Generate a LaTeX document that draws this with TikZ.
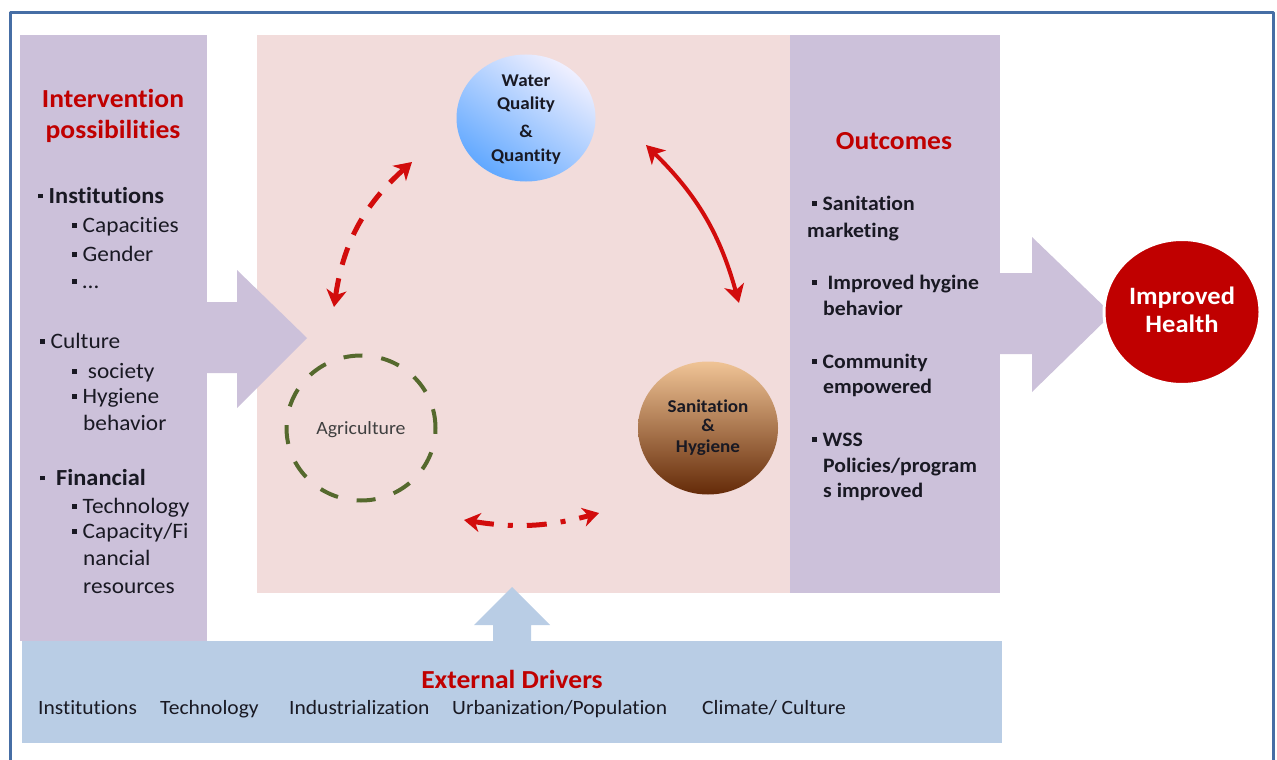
\documentclass[tikz,border=0pt]{standalone}
\usepackage{fontspec}
\setmainfont{Carlito}[Ligatures=NoCommon, FakeStretch=1.06]
\usetikzlibrary{arrows.meta,shapes.geometric}

\definecolor{lavpanel}{RGB}{204,193,218}
\definecolor{pinkpanel}{RGB}{242,220,219}
\definecolor{bluepanel}{RGB}{185,205,229}
\definecolor{headred}{RGB}{192,0,0}
\definecolor{arrowred}{RGB}{210,12,12}
\definecolor{frameblue}{RGB}{70,110,165}
\definecolor{agrigreen}{RGB}{85,105,45}
\definecolor{txtdark}{RGB}{25,25,35}
\definecolor{sanitop}{RGB}{240,196,150}
\definecolor{sanimid}{RGB}{206,112,40}
\definecolor{sanibot}{RGB}{100,42,8}

\newcommand{\fs}[1]{\fontsize{#1}{#1}\selectfont}
\newcommand{\bul}{\rule[0.2em]{4.5pt}{4.5pt}\hspace{6pt}}

\tikzset{
  head/.style={text=headred, font=\bfseries\fs{26}, anchor=base, inner sep=0pt},
  item/.style={text=txtdark, font=\fs{22}, anchor=base west, inner sep=0pt},
  bitem/.style={item, font=\bfseries\fs{23}},
  oitem/.style={item, font=\bfseries\fs{20.5}},
  ctext/.style={text=txtdark, font=\bfseries\fs{18}, anchor=base, inner sep=0pt},
  drv/.style={item, font=\fs{20.3}},
  linkdash/.style={draw=arrowred, line width=5pt, dash pattern=on 18pt off 14pt,
    {Stealth[length=17pt, width=20pt, inset=5pt]}-{Stealth[length=17pt, width=20pt, inset=5pt]}},
  linksolid/.style={draw=arrowred, line width=4pt,
    {Stealth[length=18pt, width=20pt, inset=5pt]}-{Stealth[length=18pt, width=20pt, inset=5pt]}},
  linkdot/.style={draw=arrowred, line width=5pt, dash pattern=on 20pt off 14pt on 5pt off 14pt,
    {Stealth[length=16pt, width=19pt, inset=5pt]}-{Stealth[length=16pt, width=19pt, inset=5pt]}}
}

\begin{document}
\begin{tikzpicture}[x=1pt, y=-1pt, line join=round]
\useasboundingbox (0,0) rectangle (1277,760);
% panels
\fill[lavpanel] (20,35) rectangle (207,641);
\fill[pinkpanel] (257,35) rectangle (790,593);
\fill[lavpanel] (790,35) rectangle (1000,593);
\fill[bluepanel] (22,641) rectangle (1002,743);
% big arrows
\fill[lavpanel] (207,302) -- (237,302) -- (237,270) -- (307,338) -- (237,408) -- (237,373) -- (207,373) -- cycle;
\fill[lavpanel] (1000,273) -- (1032,273) -- (1032,237) -- (1112,314) -- (1032,392) -- (1032,354) -- (1000,354) -- cycle;
\fill[bluepanel] (493,642) -- (493,625) -- (474,625) -- (512,587) -- (550,625) -- (531,625) -- (531,642) -- cycle;
\draw[frameblue, line width=3pt] (10,13) rectangle (1273,800);

% left panel
\node[head] (iphead1) at (113,107) {Intervention};
\node[head] (iphead2) at (113,138) {possibilities};
\node[bitem] (inst) at (38,203) {\bul Institutions};
\node[item] (capa) at (72,232) {\bul Capacities};
\node[item] (gend) at (72,261) {\bul Gender};
\node[item] (more) at (72,288) {\bul\ldots};
\node[item] (cult) at (40,348) {\bul Culture};
\node[item] (soci) at (72,378) {\bul\ society};
\node[item] (hyg1) at (72,403) {\bul Hygiene};
\node[item] (hyg2) at (83,430) {behavior};
\node[bitem] (fina) at (40,485) {\bul\ Financial};
\node[item] (tech) at (72,513) {\bul Technology};
\node[item] (cfr1) at (72,538) {\bul Capacity/Fi};
\node[item] (cfr2) at (83,565) {nancial};
\node[item] (cfr3) at (83,593) {resources};

% circles
\node[ellipse, minimum width=139pt, minimum height=127pt, shading=axis,
  top color=blue!6!white, middle color=blue!25!cyan!32!white, bottom color=blue!55!cyan!62!white,
  shading angle=-35] (water) at (526,118) {};
\node[ctext] (wat1) at (526,87) {Water};
\node[ctext] (wat2) at (526,109) {Quality};
\node[ctext] (wat3) at (526,137) {\&};
\node[ctext] (wat4) at (526,161) {Quantity};

\node[ellipse, minimum width=140pt, minimum height=133pt, shading=axis,
  top color=sanitop, middle color=sanimid, bottom color=sanibot] (sani) at (708,428) {};
\node[ctext] (san1) at (708,412) {Sanitation};
\node[ctext] (san2) at (708,431) {\&};
\node[ctext] (san3) at (708,452) {Hygiene};

\node[ellipse, minimum width=149pt, minimum height=145pt, draw=agrigreen, line width=4pt,
  dash pattern=on 19pt off 19pt] (agri) at (361,428) {};
\node[text=black!75, font=\fs{18.7}, anchor=base, inner sep=0pt] (agritxt) at (361,434) {Agriculture};

% red links
\coordinate (agri-n) at (334,307);
\coordinate (water-w) at (412,162);
\coordinate (water-e) at (646,145);
\coordinate (sani-n) at (739,303);
\coordinate (agri-s) at (464,520);
\coordinate (sani-s) at (599,513);
\draw[linkdash] (agri-n) to[bend left=20] (water-w);
\draw[linksolid] (water-e) to[bend left=15] (sani-n);
\draw[linkdot] (agri-s) to[bend right=12] (sani-s);

% outcomes
\node[head] (outhead) at (894,149) {Outcomes};
\node[oitem] (out1a) at (812,210) {\bul Sanitation};
\node[oitem] (out1b) at (807,237) {marketing};
\node[oitem] (out2a) at (812,289) {\bul\ Improved hygine};
\node[oitem] (out2b) at (823,315) {behavior};
\node[oitem] (out3a) at (812,368) {\bul Community};
\node[oitem] (out3b) at (823,393) {empowered};
\node[oitem] (out4a) at (812,446) {\bul WSS};
\node[oitem] (out4b) at (823,472) {Policies/program};
\node[oitem] (out4c) at (823,497) {s improved};

\node[ellipse, minimum width=156pt, minimum height=145pt, fill=headred, draw=white,
  line width=3pt] (health) at (1182,312) {};
\node[text=white, font=\bfseries\fs{25}, anchor=base, inner sep=0pt] (hl1) at (1182,304) {Improved};
\node[text=white, font=\bfseries\fs{25}, anchor=base, inner sep=0pt] (hl2) at (1182,332) {Health};

% external drivers
\node[head] (exthead) at (512,688) {External Drivers};
\node[drv] (drv1) at (38,714) {Institutions};
\node[drv] (drv2) at (160,714) {Technology};
\node[drv] (drv3) at (289,714) {Industrialization};
\node[drv] (drv4) at (452,714) {Urbanization/Population};
\node[drv] (drv5) at (702,714) {Climate/ Culture};
\end{tikzpicture}
\end{document}
